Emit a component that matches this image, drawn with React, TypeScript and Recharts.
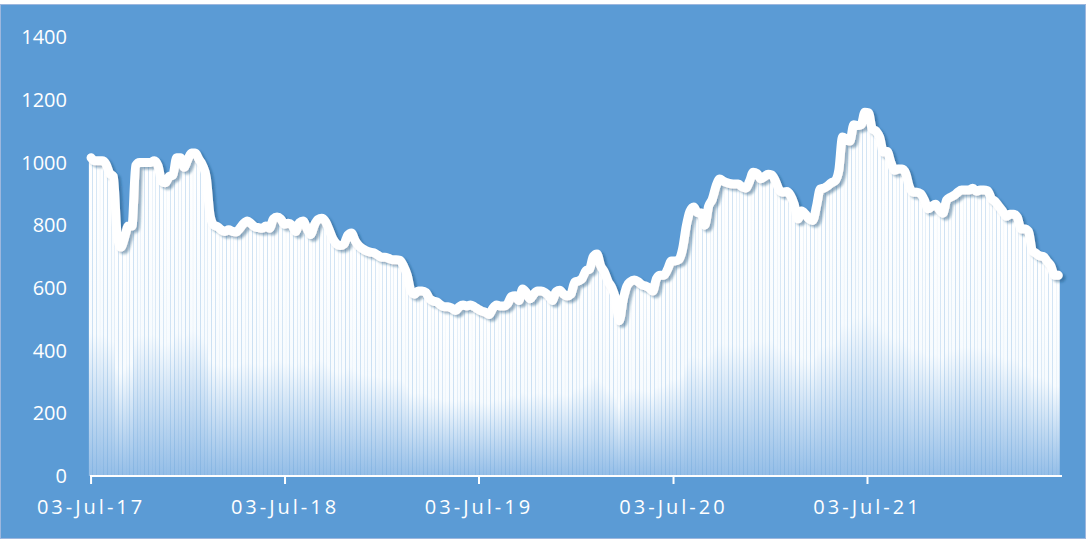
import { ComposedChart, Bar, Line, XAxis, YAxis } from 'recharts';

const DAY = 86400000;
const START = Date.UTC(2017, 6, 3);

// weekly values, starting 03-Jul-17
const values2017 = [
  1015, 1005, 1005, 1005, 995, 965, 955, 770, 730, 760, 797, 797, 990,
  1000, 1000, 1000, 1000, 1005, 990, 940, 935, 955, 960, 1015, 1015, 985, 1010, 1030, 1030, 1010, 990, 950,
];
const values2018 = [
  830, 800, 795, 785, 780, 785, 780, 778, 790, 805, 813, 805, 795, 792, 790, 797, 790, 820, 826, 820,
  803, 806, 800, 780, 808, 813, 790, 770, 800, 818, 822, 812, 785, 756, 740, 735, 740, 768, 775, 750,
  734, 725, 718, 714, 712, 705, 698, 698, 694, 690, 690, 688, 670, 640, 590, 580,
];
const values2019 = [
  590, 590, 585, 565, 558, 555, 545, 540, 540, 535, 528, 540, 545, 542, 545, 540, 532, 526, 522, 515,
  535, 545, 542, 542, 550, 572, 575, 560, 596, 585, 565, 580, 590, 590, 585, 575, 560, 588, 592, 580,
  574, 580, 618, 622, 630, 654, 660, 700, 708, 670, 650, 620, 600, 565, 495, 560, 605, 620, 625, 620,
  610, 606, 600, 590, 630, 640, 640, 660, 686, 686, 690, 724, 797, 845, 858, 840, 839, 800, 860, 883,
  925, 947, 940, 935, 932, 931, 931,
];
const values2021 = [
  922, 918, 940, 969, 965, 948, 955, 962, 960, 940, 912, 905, 907, 895, 867, 820, 845, 835, 820, 815,
  860, 915, 918, 925, 935, 941, 975, 1081, 1075, 1068, 1120, 1118, 1120, 1160, 1158, 1107, 1100, 1080, 1033, 1035,
  1000, 975, 979, 979, 965, 921, 905, 905, 900, 880, 852, 860, 867, 850, 838, 880, 889, 895, 905, 912,
  912, 912, 918, 908, 912, 912, 910, 885, 876, 860, 845, 828, 835, 835, 825, 788, 788, 780, 720, 710,
  702, 700, 685, 670, 640, 640,
];

const values = [...values2017, ...values2018, ...values2019, ...values2021];

const xTicks = [2017, 2018, 2019, 2020, 2021].map((y) => Date.UTC(y, 6, 3));
const yTicks = [0, 200, 400, 600, 800, 1000, 1200, 1400];
const MONTHS = ['Jan', 'Feb', 'Mar', 'Apr', 'May', 'Jun', 'Jul', 'Aug', 'Sep', 'Oct', 'Nov', 'Dec'];

const data = values.map((v, i) => ({ t: START + i * 7 * DAY, v }));

const fmtDate = (t: number) => {
  const d = new Date(t);
  const dd = String(d.getUTCDate()).padStart(2, '0');
  return `${dd}-${MONTHS[d.getUTCMonth()]}-${String(d.getUTCFullYear()).slice(2)}`;
};

// widen each bar around its own centre so neighbours almost touch
const WeekBar = (props: any) => {
  const { x, y, width, height } = props;
  if (!height || height <= 0) return null;
  const cx = x + width / 2;
  const w = 3.65;
  return <rect x={cx - w / 2} y={y} width={w} height={height} fill="url(#barFill)" />;
};

export default function App() {
  return (
    <div style={{ position: 'fixed', left: 0, top: 0, width: 1088, height: 541, background: '#ffffff' }}>
      <div
        style={{
          position: 'absolute',
          left: 0,
          top: 4,
          width: 1086,
          height: 535,
          background: '#5B9BD5',
          border: '1px solid #9DB7DE',
          boxSizing: 'border-box',
        }}
      />
      <div style={{ position: 'absolute', left: 0, top: 0 }}>
        <ComposedChart
          width={1088}
          height={541}
          data={data}
          margin={{ top: 37, right: 26, left: 30, bottom: 25 }}
        >
          <defs>
            <linearGradient id="barFill" x1="0" y1="0" x2="0" y2="1">
              <stop offset="0%" stopColor="#ffffff" />
              <stop offset="55%" stopColor="#f7fbfe" />
              <stop offset="100%" stopColor="#93bde7" />
            </linearGradient>
            <filter id="lineShadow" x="-5%" y="-5%" width="110%" height="120%">
              <feDropShadow dx="3" dy="2.5" stdDeviation="1.3" floodColor="#1F4E79" floodOpacity="0.45" />
            </filter>
          </defs>
          <XAxis
            dataKey="t"
            type="number"
            domain={[START - 2 * DAY, START + 1827 * DAY]}
            ticks={xTicks}
            tickFormatter={fmtDate}
            axisLine={{ stroke: '#ffffff', strokeWidth: 2 }}
            tickLine={{ stroke: '#ffffff', strokeWidth: 2 }}
            tickSize={8}
            tickMargin={16}
            height={40}
            tick={{ fill: '#ffffff', fontSize: 20, fontFamily: 'Open Sans', letterSpacing: 3 }}
          />
          <YAxis
            domain={[0, 1400]}
            ticks={yTicks}
            axisLine={false}
            tickLine={false}
            tickSize={0}
            tickMargin={23}
            width={60}
            tick={{ fill: '#ffffff', fontSize: 20, fontFamily: 'Open Sans' }}
          />
          <Bar dataKey="v" barSize={3} fill="url(#barFill)" shape={WeekBar} isAnimationActive={false} />
          <Line
            dataKey="v"
            type="monotone"
            stroke="#ffffff"
            strokeWidth={9}
            strokeLinejoin="round"
            strokeLinecap="round"
            dot={false}
            activeDot={false}
            filter="url(#lineShadow)"
            isAnimationActive={false}
          />
        </ComposedChart>
      </div>
    </div>
  );
}
